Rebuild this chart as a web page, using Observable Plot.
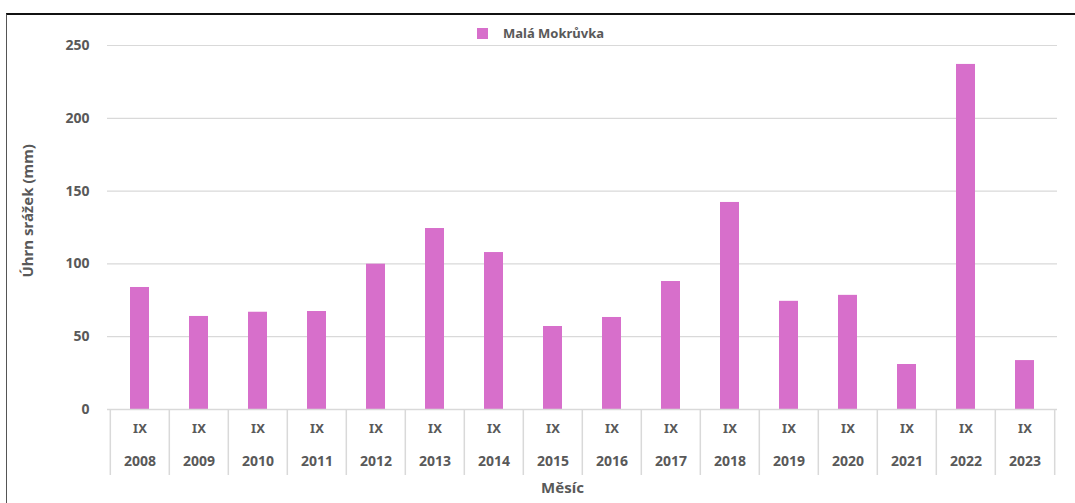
<!DOCTYPE html>
<html><head><meta charset="utf-8">
<script src="https://cdn.jsdelivr.net/npm/d3@7"></script>
<script src="https://cdn.jsdelivr.net/npm/@observablehq/plot@0.6"></script>
<style>
body{margin:0;background:#fff;}
#wrap{position:relative;width:1075px;height:503px;overflow:hidden;font-family:"Noto Sans",sans-serif;}
#frame{position:absolute;left:6px;top:13px;width:1075px;height:500px;border-left:1px solid #555;border-top:2px solid #111;box-sizing:border-box;pointer-events:none;}
#legend{position:absolute;left:477px;top:24px;height:18px;display:flex;align-items:center;font-size:13px;font-weight:bold;color:#595959;}
#legend .sw{width:11px;height:11px;margin-right:15px;}
#chart{position:absolute;left:0;top:0;}
</style></head>
<body>
<div id="wrap">
  <div id="chart"></div>
  <div id="frame"></div>
  <div id="legend"><span class="sw"></span><span id="legtext"></span></div>
</div>
<script>
const seriesName = "Malá Mokrůvka";
const years = ["2008","2009","2010","2011","2012","2013","2014","2015","2016","2017","2018","2019","2020","2021","2022","2023"];
const month = "IX";
const values = [83.8, 63.9, 66.8, 67.3, 99.8, 124.3, 107.8, 57.0, 63.2, 87.9, 142.2, 74.3, 78.4, 30.9, 237.0, 33.6];
const yTicks = [0, 50, 100, 150, 200, 250];
const yLabel = "Úhrn srážek (mm)";
const xLabel = "Měsíc";
const color = "#D76FCB";

const data = years.map((y, i) => ({year: y, value: values[i]}));
const W = 1075, H = 503, mL = 107, mR = 18, mT = 45, mB = 94;
const bw = (W - mL - mR) / years.length;
const frameH = H - mT - mB;
const textStyle = {fill: "#595959", fontWeight: "bold"};

const chart = Plot.plot({
  width: W, height: H,
  marginLeft: mL, marginRight: mR, marginTop: mT, marginBottom: mB,
  style: {fontFamily: "'Noto Sans', sans-serif", background: "transparent", overflow: "visible"},
  x: {type: "band", domain: years, paddingInner: 0.68, paddingOuter: 0.34, axis: null},
  y: {domain: [0, 250], axis: null},
  marks: [
    Plot.gridY(yTicks.slice(1), {stroke: "#d9d9d9", strokeOpacity: 1, strokeWidth: 1.2}),
    Plot.barY(data, {x: "year", y: "value", fill: color}),
    Plot.ruleY([0], {stroke: "#d9d9d9", strokeWidth: 1.5}),
    Plot.ruleX(years, {x: d => d, dx: -bw / 2, insetTop: frameH, insetBottom: -66, stroke: "#d9d9d9", strokeWidth: 1.5}),
    Plot.ruleX(years.slice(-1), {x: d => d, dx: bw / 2, insetTop: frameH, insetBottom: -66, stroke: "#d9d9d9", strokeWidth: 1.5}),
    Plot.axisY({ticks: yTicks, tickSize: 0, tickPadding: 18, fontSize: 14, ...textStyle, label: null}),
    Plot.text(years, {x: d => d, text: () => month, frameAnchor: "bottom", dy: 23, fontSize: 13, ...textStyle}),
    Plot.text(years, {x: d => d, text: d => d, frameAnchor: "bottom", dy: 56, fontSize: 14, ...textStyle}),
    Plot.text([xLabel], {text: d => d, frameAnchor: "bottom", dx: -20, dy: 83, fontSize: 15, ...textStyle}),
    Plot.text([yLabel], {text: d => d, frameAnchor: "left", dx: -79, dy: 50, rotate: -90, fontSize: 15, ...textStyle})
  ]
});
document.getElementById("chart").appendChild(chart);
document.querySelector("#legend .sw").style.background = color;
document.getElementById("legtext").textContent = seriesName;
</script>
</body></html>
